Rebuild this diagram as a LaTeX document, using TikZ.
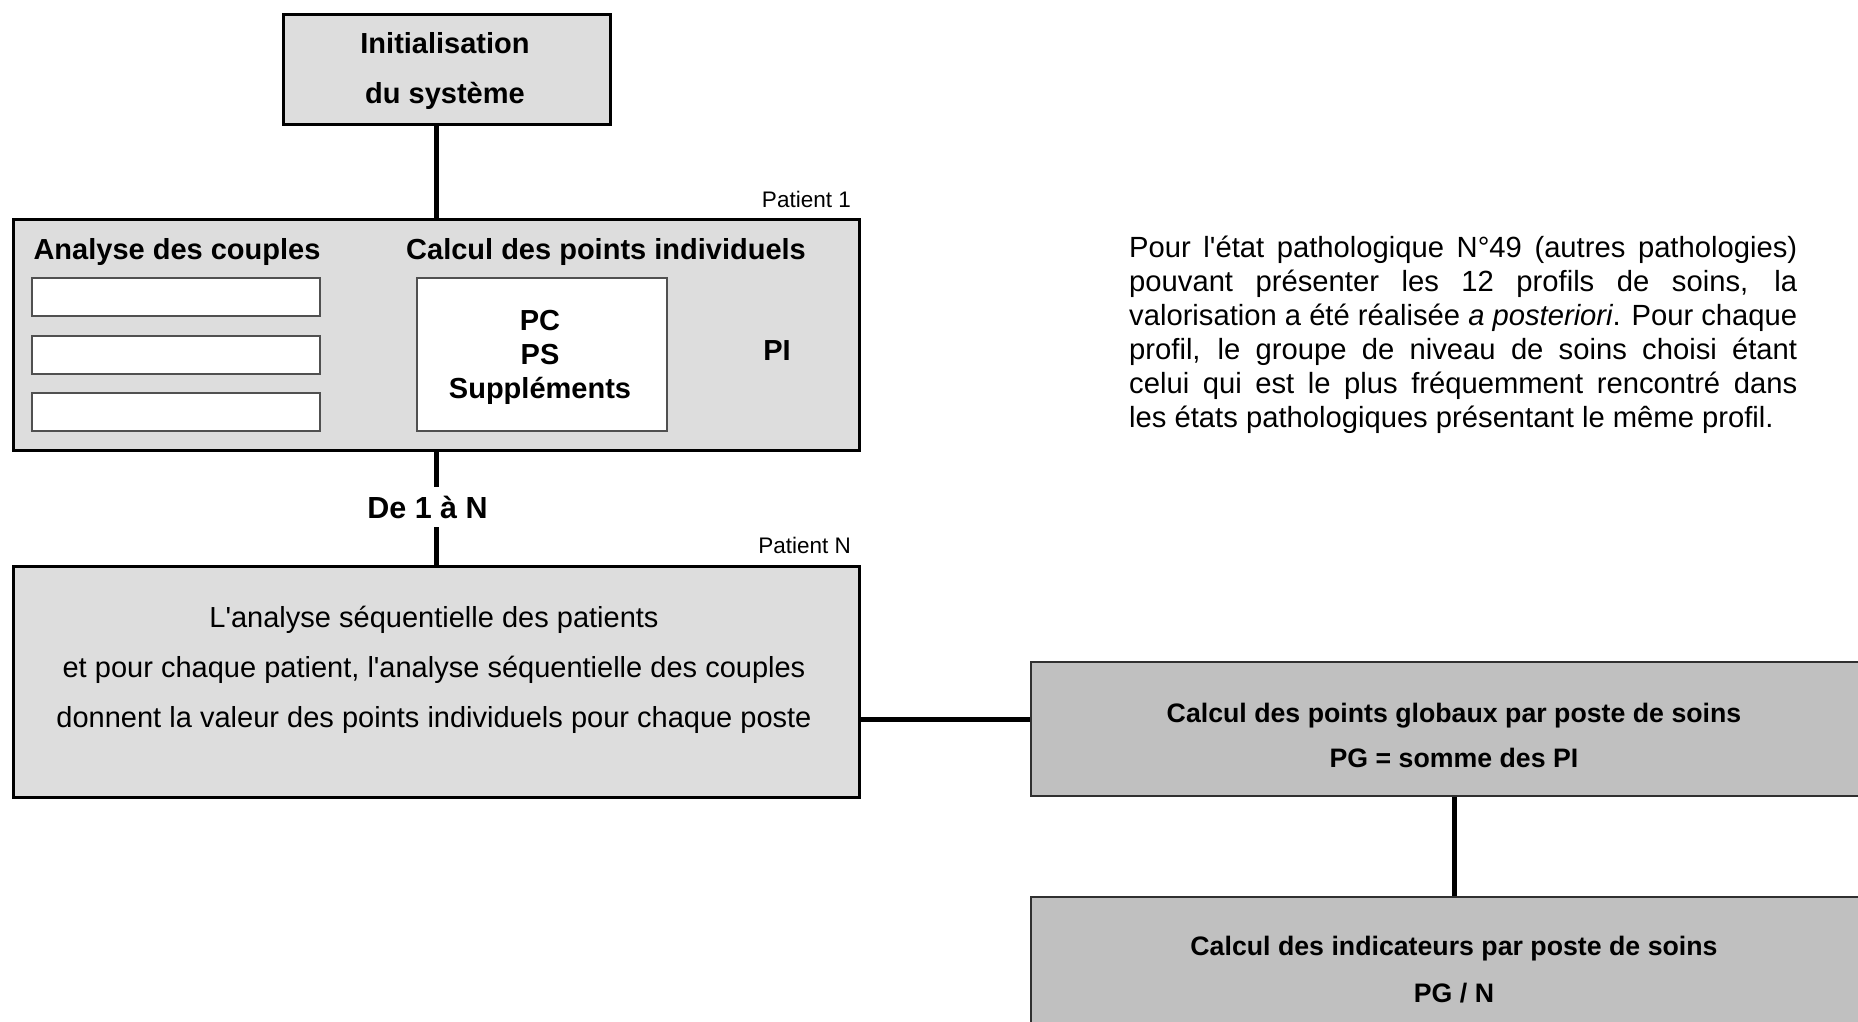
\documentclass[tikz,border=0pt]{standalone}
\usepackage{fontspec}
\newfontfamily\arialfont{Liberation Sans}
\definecolor{panelgray}{HTML}{DDDDDD}
\definecolor{stepgray}{HTML}{C0C0C0}
\definecolor{slotedge}{HTML}{505050}
\definecolor{stepedge}{HTML}{303030}
% one justified line of the note, spaces stretched to the full measure
\newcommand{\fullline}[1]{\makebox[668pt][s]{\spaceskip=0pt\xspaceskip=0pt #1}}
\begin{document}
\arialfont
\begin{tikzpicture}[x=1pt,y=-1pt,
  panel/.style={draw=black,line width=2.5pt,fill=panelgray,inner sep=0pt,anchor=north west},
  slot/.style={draw=slotedge,line width=1.5pt,fill=white,inner sep=0pt,anchor=north west},
  stepbox/.style={draw=stepedge,line width=1.5pt,fill=stepgray,inner sep=0pt,anchor=north west},
  link/.style={line width=5pt,black},
  txt/.style={inner sep=0pt,anchor=base,text width=820pt,align=center,
    execute at begin node={\spaceskip=0.28em\xspaceskip=0.28em}},
  head/.style={inner sep=0pt,anchor=base,font=\fontsize{29}{34}\selectfont\bfseries},
  tag/.style={inner sep=0pt,anchor=base east,font=\fontsize{22.5}{27}\selectfont},
  para/.style={inner sep=0pt,anchor=base west,text width=668pt,
    font=\fontsize{29.2}{34}\selectfont}
]
\useasboundingbox (0,0) rectangle (1858,1021);
\clip (0,0) rectangle (1858,1021);

% start of the process
\node[panel,minimum width=327pt,minimum height=110pt] (init) at (282,13) {};
\node[txt,font=\fontsize{29}{50}\selectfont\bfseries] (inittxt) at (445,53)
  {Initialisation\\du système};

% first patient
\node[panel,minimum width=846pt,minimum height=231pt] (p1) at (12,218) {};
\node[tag] (p1tag) at (851,207) {Patient 1};
\node[head] (couples) at (177,259) {Analyse des couples};
\node[head] (calcul) at (606,259) {Calcul des points individuels};
\node[slot,minimum width=288pt,minimum height=38pt] (s1) at (31,277) {};
\node[slot,minimum width=288pt,minimum height=38pt] (s2) at (31,335) {};
\node[slot,minimum width=288pt,minimum height=38pt] (s3) at (31,392) {};
\node[slot,minimum width=250pt,minimum height=153pt] (pcbox) at (416,277) {};
\node[txt,font=\fontsize{29}{34}\selectfont\bfseries] (pctxt) at (540,330)
  {PC\\PS\\Suppléments};
\node[head] (pi) at (777,360) {PI};

\draw[link] (p1.north) -- (p1.north |- init.south);

% loop over the patients
\node[head,font=\fontsize{30.5}{31}\selectfont\bfseries] (rep) at (427.5,518) {De 1 à N};
\node[panel,minimum width=846pt,minimum height=231pt] (pN) at (12,565) {};
\node[tag] (pNtag) at (851,553) {Patient N};
\node[txt,font=\fontsize{29}{50}\selectfont] (pNtxt) at (434,627)
  {L'analyse séquentielle des patients\\
   et pour chaque patient, l'analyse séquentielle des couples\\
   donnent la valeur des points individuels pour chaque poste};
\coordinate (gapA) at (p1.south |- 0,487);
\coordinate (gapB) at (p1.south |- 0,527);
\draw[link] (p1.south) -- (gapA);
\draw[link] (gapB) -- (pN.north);

% totals per care post
\node[stepbox,minimum width=848pt,minimum height=134pt] (pg) at (1030,661) {};
\node[txt,font=\fontsize{26.7}{45}\selectfont\bfseries] (pgtxt) at (1454,722)
  {Calcul des points globaux par poste de soins\\PG = somme des PI};
\node[stepbox,minimum width=848pt,minimum height=160pt] (ind) at (1030,896) {};
\node[txt,font=\fontsize{26.7}{47}\selectfont\bfseries] (indtxt) at (1454,955)
  {Calcul des indicateurs par poste de soins\\PG / N};

\coordinate (hl) at ([yshift=-37.5pt]pN.east);
\draw[link] (hl) -- (hl -| pg.west);
\draw[link] (pg.south) -- (ind.north);

% note on pathological state 49
\node[para] (note) at (1129,257)
  {\fullline{Pour l'état pathologique N°49 (autres pathologies)}\\
   \fullline{pouvant présenter les 12 profils de soins, la}\\
   \fullline{valorisation a été réalisée \textit{a posteriori}. Pour chaque}\\
   \fullline{profil, le groupe de niveau de soins choisi étant}\\
   \fullline{celui qui est le plus fréquemment rencontré dans}\\
   \spaceskip=0pt\xspaceskip=0pt les états pathologiques présentant le même profil.};
\end{tikzpicture}
\end{document}
